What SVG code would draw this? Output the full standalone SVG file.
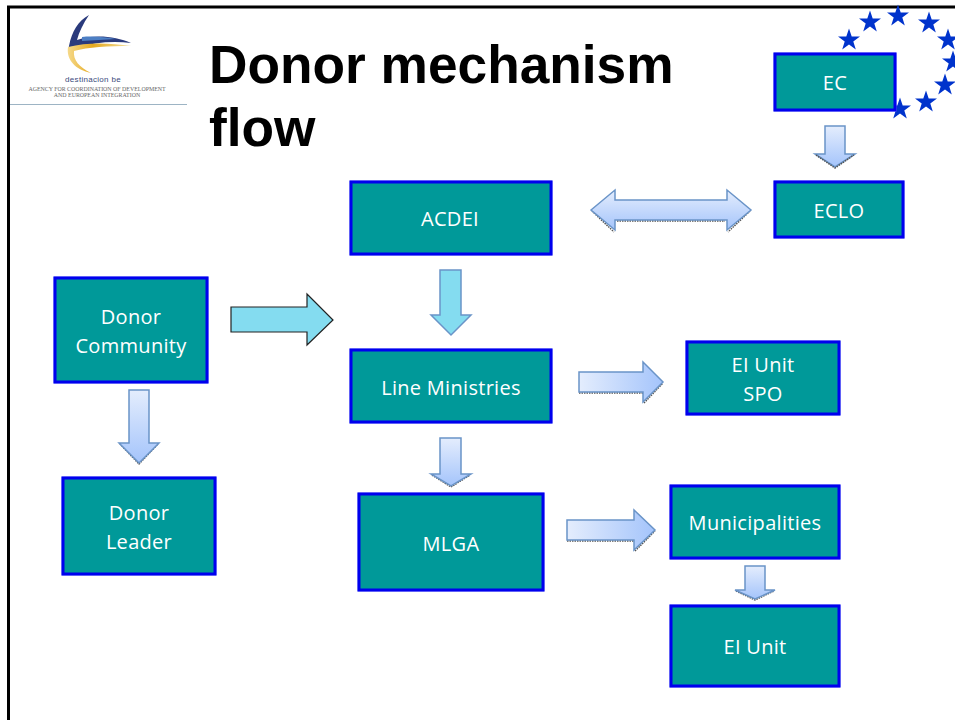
<svg xmlns="http://www.w3.org/2000/svg" width="955" height="720" viewBox="0 0 955 720">
<style>
.box{fill:#009999;stroke:#0000ee;stroke-width:3;filter:drop-shadow(0 0 .6px #8a8aff)}
.lbl{font-family:"Open Sans","Noto Sans",sans-serif;font-size:20px;fill:#fff;text-anchor:middle;letter-spacing:.3px}
.ttl{font-family:"Liberation Sans",Arial,sans-serif;font-weight:700;font-size:53.250px;fill:#000}
.a1{fill:url(#gv);stroke:#6a94c8;stroke-width:1.5}
.a2{fill:url(#gh);stroke:#6a94c8;stroke-width:1.5}
.a3{fill:#84dcf0;stroke:#6a94c8;stroke-width:1.5}
.star{fill:#0033cc}
.sh{fill:none;stroke:#555;stroke-width:1.5;stroke-dasharray:1.5 1}
</style>
<defs>
<linearGradient id="gv" x1="0" y1="0" x2="0" y2="1"><stop offset="0" stop-color="#e4edfd"/><stop offset="1" stop-color="#a4c4fb"/></linearGradient>
<linearGradient id="gh" x1="0" y1="0" x2="1" y2="0"><stop offset="0" stop-color="#e4edfd"/><stop offset="1" stop-color="#a4c4fb"/></linearGradient>
<linearGradient id="gy" x1="0" y1="0" x2="1" y2="0"><stop offset="0" stop-color="#f5d98a"/><stop offset="0.4" stop-color="#e6a91e"/><stop offset="1" stop-color="#f4e3a8"/></linearGradient>
<polygon id="s" class="star" points="0,-11.500 2.700,-3.600 11,-3.600 4.300,1.400 6.800,9.400 0,4.500 -6.800,9.400 -4.300,1.400 -11,-3.600 -2.700,-3.600"/>
</defs>
<rect width="955" height="720" fill="#fff"/>
<path d="M8.500 720V7H955" fill="none" stroke="#000" stroke-width="3"/>
<g id="logo">
<path d="M10 104.500H187" stroke="#9db4c4" stroke-width="1" fill="none"/>
<path d="M89 15C78 21 72 31 69 46C68 49 70 50 76 48C94 42 114 41 131 43C116 36 93 34 77 40C79 32 83 24 89 15Z" fill="#2a3a7c"/>
<path d="M82 37C92 36 106 37 116 39L82 41Z" fill="#4d7fc4"/>
<path d="M68 47C88 42 110 43 131 46C108 46 88 47 74 51C73 60 79 67 91 73C76 70 66 60 68 47Z" fill="url(#gy)"/>
<text x="93" y="82" font-family="Liberation Sans,sans-serif" font-size="8" fill="#3a4a7c" text-anchor="middle" letter-spacing=".3">destinacion be</text>
<text x="97" y="91" font-family="Liberation Serif,serif" font-size="5.900" fill="#666" text-anchor="middle">AGENCY FOR COORDINATION OF DEVELOPMENT</text>
<text x="97" y="97" font-family="Liberation Serif,serif" font-size="5.900" fill="#666" text-anchor="middle">AND EUROPEAN INTEGRATION</text>
</g>
<g id="title"><text class="ttl" x="209" y="83">Donor mechanism</text><text class="ttl" x="209" y="146">flow</text></g>
<g id="stars">
<use href="#s" x="849" y="40"/><use href="#s" x="870" y="22"/><use href="#s" x="898" y="16"/><use href="#s" x="929" y="23"/><use href="#s" x="948" y="40"/><use href="#s" x="953" y="62"/><use href="#s" x="945" y="85"/><use href="#s" x="926" y="102"/><use href="#s" x="900" y="109"/>
</g>
<g id="connectors">
<path class="a1" d="M825 126H845V154H855L835 167L815 154H825Z"/>
<path class="sh" d="M816 155L835 168L854 155"/>
<path class="sh" d="M617 221H725M592 211L614 232M750 211L728 232"/>
<path class="a1" d="M591 210L615 190V200H727V190L751 210L727 230V220H615V230Z"/>
<path class="a3" d="M440 270H461V315H471L451 335L431 315H440Z"/>
<path d="M231 307H307V294L333 320L307 345V332H231Z" fill="#84dcf0" stroke="#222" stroke-width="1.200"/>
<path class="sh" d="M120 444L139 464L158 444"/>
<path class="a1" d="M129 390H149V443H159L139 463L119 443H129Z"/>
<path class="sh" d="M432 475L451 487L470 475"/>
<path class="a1" d="M440 438H461V474H471L451 486L431 474H440Z"/>
<path class="sh" d="M579 393H643M644 403L663 383"/>
<path class="a2" d="M579 372H643V362L663 382L643 402V392H579Z"/>
<path class="sh" d="M567 541H634M635 551L655 531"/>
<path class="a2" d="M567 520H634V510L655 530L634 550V540H567Z"/>
<path class="sh" d="M736 591L755 600L774 591"/>
<path class="a1" d="M745 566H765V590H775L755 599L735 590H745Z"/>
</g>
<g id="ec"><rect class="box" x="775" y="54" width="120" height="56"/><text class="lbl" x="835" y="90">EC</text></g>
<g id="eclo"><rect class="box" x="775" y="182" width="128" height="55"/><text class="lbl" x="839" y="218">ECLO</text></g>
<g id="acdei"><rect class="box" x="351" y="182" width="200" height="72"/><text class="lbl" x="450" y="226">ACDEI</text></g>
<g id="donor-community"><rect class="box" x="55" y="278" width="152" height="104"/><text class="lbl" x="131" y="324">Donor</text><text class="lbl" x="131" y="353">Community</text></g>
<g id="line-ministries"><rect class="box" x="351" y="350" width="200" height="72"/><text class="lbl" x="451" y="395">Line Ministries</text></g>
<g id="ei-unit-spo"><rect class="box" x="687" y="342" width="152" height="72"/><text class="lbl" x="763" y="372">EI Unit</text><text class="lbl" x="763" y="401">SPO</text></g>
<g id="donor-leader"><rect class="box" x="63" y="478" width="152" height="96"/><text class="lbl" x="139" y="520">Donor</text><text class="lbl" x="139" y="549">Leader</text></g>
<g id="mlga"><rect class="box" x="359" y="494" width="184" height="96"/><text class="lbl" x="451" y="551">MLGA</text></g>
<g id="municipalities"><rect class="box" x="671" y="486" width="168" height="72"/><text class="lbl" x="755" y="530">Municipalities</text></g>
<g id="ei-unit"><rect class="box" x="671" y="606" width="168" height="80"/><text class="lbl" x="755" y="654">EI Unit</text></g>
</svg>
